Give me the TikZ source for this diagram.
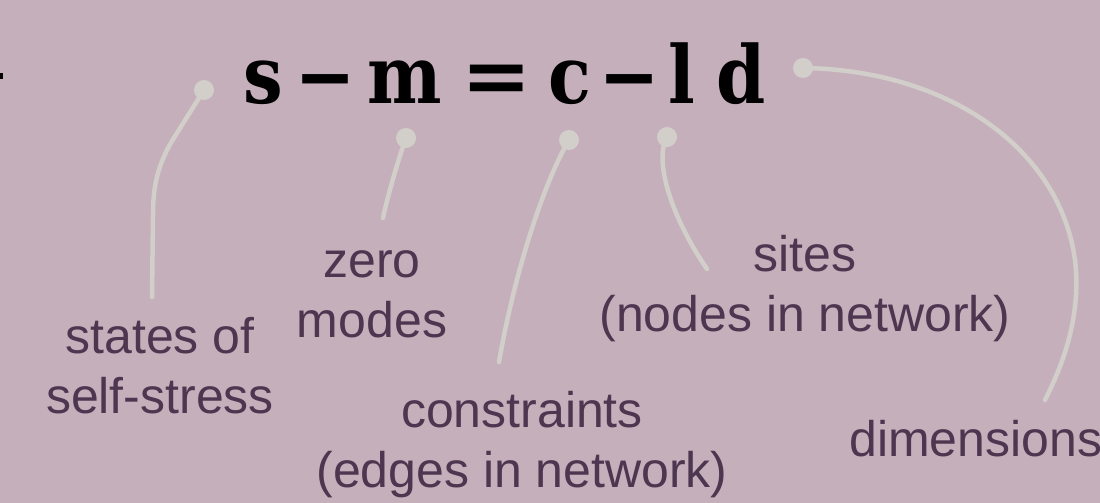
\documentclass[tikz,border=0pt]{standalone}
\usepackage{fontspec}
\setmainfont{Liberation Sans}
\newfontfamily\eqfont{DejaVu Serif}
\definecolor{bgc}{RGB}{197,175,187}
\definecolor{linec}{RGB}{210,207,203}
\definecolor{txtc}{RGB}{76,54,80}
\tikzset{
  conn/.style={draw=linec, line width=4.5pt, line cap=round},
  dotc/.style={circle, fill=linec, minimum size=20pt, inner sep=0pt},
  lbl/.style={text=txtc, align=center, inner sep=0pt, font=\fontsize{50}{60}\selectfont},
  eqn/.style={text=black, inner sep=0pt, font=\eqfont\bfseries\fontsize{80}{90}\selectfont}
}
\newcommand{\gl}[3]{\makebox[0pt][c]{\scalebox{#1}[1]{#2}}\hspace{#3pt}}
\begin{document}
\begin{tikzpicture}[x=1pt,y=-1pt]
\fill[bgc] (0,0) rectangle (1100,503);
\useasboundingbox (0,0) rectangle (1100,503);
\fill[black] (0,73) rectangle (3,79);
% equation
\node[eqn, anchor=base west] (eq) at (263,103) {\gl{0.88}{s}{62}\gl{1.45}{\raisebox{3pt}{–}}{80}\gl{0.88}{m}{91}\gl{1.05}{=}{74}\gl{0.88}{c}{59}\gl{1.45}{\raisebox{3pt}{–}}{53}\gl{0.88}{l}{59}\gl{0.88}{d}{0}};
% dots
\node[dotc] (ds) at (204,90) {};
\node[dotc] (dm) at (406,138) {};
\node[dotc] (dc) at (569,140) {};
\node[dotc] (dl) at (667,137) {};
\node[dotc] (dd) at (803,68) {};
% labels (base anchor = baseline of the last line)
\node[lbl, anchor=base] (ls) at (160,413) {states of\\self-stress};
\node[lbl, anchor=base] (lm) at (372,337) {zero\\modes};
\node[lbl, anchor=base] (lc) at (522,487) {constraints\\(edges in network)};
\node[lbl, anchor=base] (ll) at (805,331) {sites\\(nodes in network)};
\node[lbl, anchor=base west] (ld) at (849,456) {dimensions};
% connector ends
\coordinate (es) at (152,297);
\coordinate (em) at (383,218);
\coordinate (ec) at (499,362);
\coordinate (el) at (707,269);
\coordinate (ed) at (1045,400);
% connectors
\draw[conn] (ds.center) -- (172,141) .. controls (158,165) and (153,185) .. (153,215) -- (es);
\draw[conn] (dm.center) .. controls (398,160) and (388,195) .. (em);
\draw[conn] (dc.center) .. controls (545,180) and (515,270) .. (ec);
\draw[conn] (dl.center) .. controls (654,160) and (670,215) .. (el);
\draw[conn] (dd.center) .. controls (950,70) and (1060,150) .. (1075,260) .. controls (1082,320) and (1060,370) .. (ed);
\end{tikzpicture}
\end{document}
